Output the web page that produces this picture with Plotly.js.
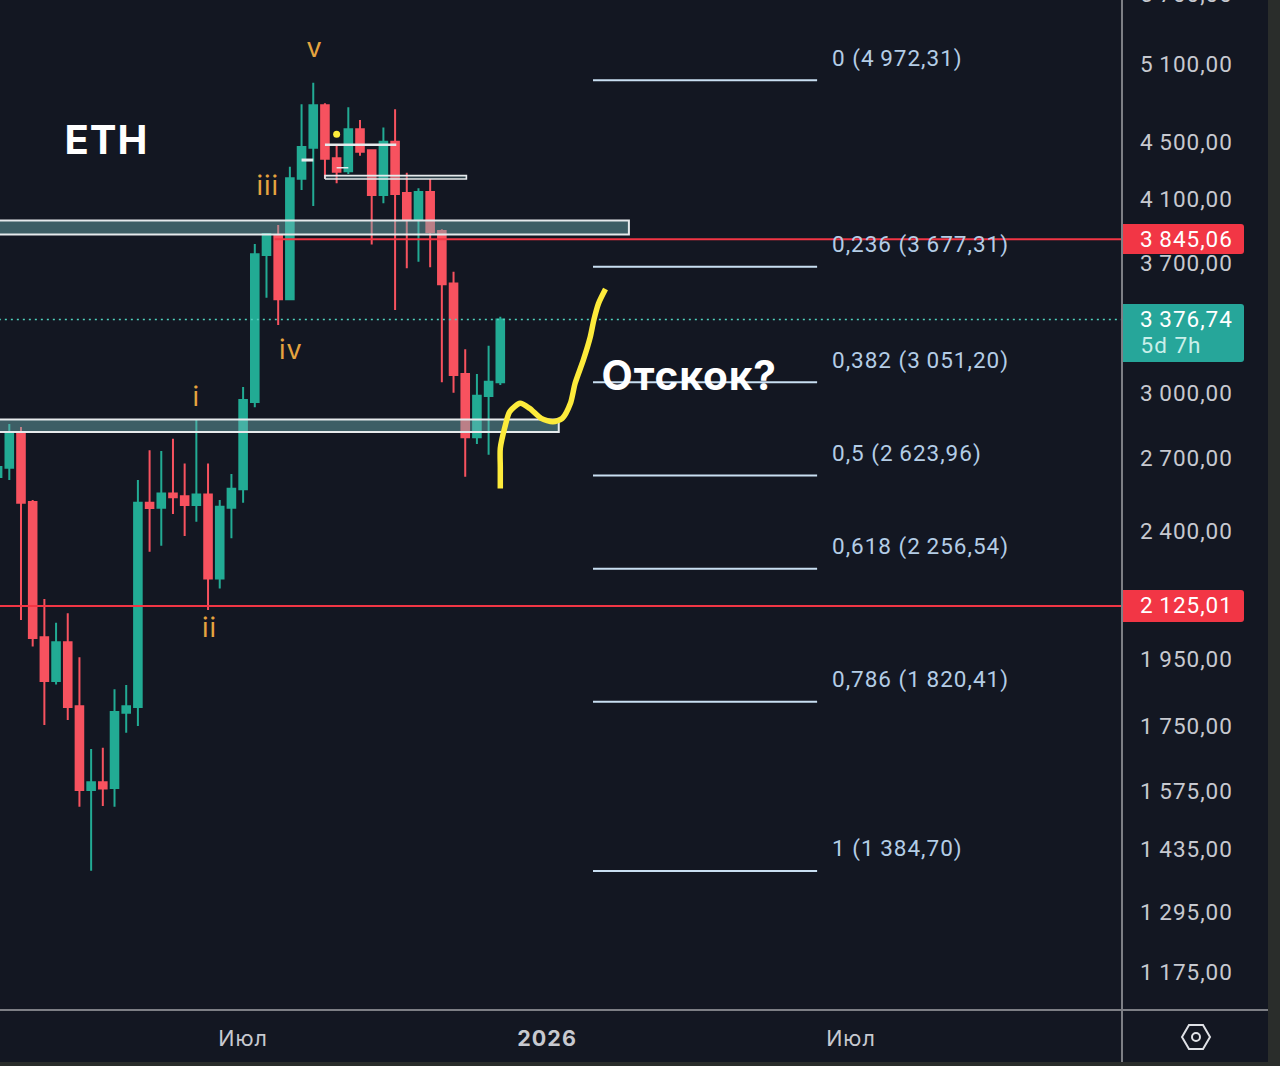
<!DOCTYPE html>
<html><head><meta charset="utf-8">
<script src="https://cdn.plot.ly/plotly-3.0.1.min.js"></script>
<style>html,body{margin:0;padding:0;background:#2a2d2b;overflow:hidden}#c{position:absolute;left:0;top:0;width:1268px;height:1062px}#c text{letter-spacing:1px}</style>
</head><body><div id="c"></div>
<script>
const weeks=[-1,0,1,2,3,4,5,6,7,8,9,10,11,12,13,14,15,16,17,18,19,20,21,22,23,24,25,26,27,28,29,30,31,32,33,34,35,36,37,38,39,40,41,42];
const opens=[2618,2657,2815,2514,2020,1882,2004,1807,1578,1598,1583,1788,1805,2511,2491,2549,2538,2502,2545,2222,2491,2566,2955,3748,3871,3489,4240,4458,4774,4382,4291,4593,4439,4130,4501,4143,3973,4150,3896,3580,3092,2792,2984,3051];
const highs=[2660,2852,2838,2522,2149,2068,2100,1956,1686,1690,1857,1870,2605,2734,2730,2785,2676,2875,2676,2522,2630,3028,3815,3884,3934,4323,4782,4952,4790,4478,4759,4662,4446,4607,4744,4281,4175,4238,3907,3648,3218,3092,3237,3392];
const lows=[2618,2605,2077,1990,1753,1872,1767,1536,1385,1538,1536,1731,1750,2320,2342,2466,2380,2435,2111,2186,2371,2511,2930,3498,3347,3489,4163,4057,4243,4209,4272,4401,3813,4075,3429,3668,3708,3674,3051,3000,2619,2761,2714,3037];
const closes=[2660,2815,2511,2018,1882,2004,1805,1578,1598,1582,1790,1807,2511,2490,2549,2533,2502,2545,2222,2495,2568,2965,3752,3877,3489,4243,4463,4774,4379,4288,4593,4429,4130,4501,4137,3966,4150,3888,3575,3087,2792,2985,3054,3376.74];

const yTicks=[5100,4500,4100,3700,3000,2700,2400,2150,1950,1750,1575,1435,1295,1175];
const xTickVals=[20,46,72];
const xTickText=['Июл','<b>2026</b>','Июл'];

const fibLevels=['0','0,236','0,382','0,5','0,618','0,786','1'];
const fibValues=[4972.31,3677.31,3051.20,2623.96,2256.54,1820.41,1384.70];
const fibStart=49.93, fibEnd=69.1, fibLabelX=70.37;

const currentPrice=3376.74, currentCountdown='5d 7h';
const resistance=3845.06, support=2125.01;
const resistanceStart=22.7;

const upperZone=[3874,3963], upperZoneEnd=53;
const lowerZone=[2815,2873], lowerZoneEnd=47;
const boxPrices=[4238,4261], boxSpan=[27,39.1];

const dashSpans=[[27,33.1],[25,26],[28,29]];
const dashPrices=[4480,4370,4316];
const dashWidths=[2.5,3,1.5];

const dotWeek=[28], dotPrice=[4556];

const sketchX=[42,42,42,42.4,42.8,43.7,44.5,45.5,46.5,47.3,48,48.4,49.1,49.7,50,50.4,51];
const sketchY=[2570,2660,2742,2839,2909,2949,2925,2878,2862,2878,2949,3046,3162,3284,3374,3466,3548];

const waveText=['i','ii','iii','iv','v'];
const waveWeek=[16,17,22,24,26.06];
const wavePrice=[2982,2054,4197,3219,5238];

const bg='#131722', up='#22ab94', down='#f7525f', tagRed='#f23645', tagGreen='#26a69a';
const fibColor='#c9dff2', fibText='#b4cde6', white='#e6eaec', axisText='#c7c9d0', frame='#7d7f85';
const FONT='Inter, "Noto Sans", sans-serif';
const NUM='Roboto, Inter, sans-serif';
const PW=1122, PH=1010, FS=22.5;
const X=p=>p/PW, Y=p=>1-p/PH;

const fmt=v=>{const s=v.toFixed(2).replace('.',',');return v>=1000?s[0]+'\u2009'+s.slice(1):s;};
const lg=Math.log10;

function hline(x0,x1,v,color,width,dash){
  return {type:'scatter',mode:'lines',x:[x0,x1],y:[v,v],hoverinfo:'skip',showlegend:false,
    line:{color:color,width:width,dash:dash||'solid'}};
}
function zone(x1,pr){
  return {type:'scatter',mode:'lines',x:[-5,x1,x1,-5,-5],y:[pr[0],pr[0],pr[1],pr[1],pr[0]],
    fill:'toself',fillcolor:'rgba(114,181,185,0.45)',line:{color:white,width:2},hoverinfo:'skip',showlegend:false};
}
const traces=[
  {type:'candlestick',x:weeks,open:opens,high:highs,low:lows,close:closes,hoverinfo:'skip',showlegend:false,
   whiskerwidth:0,
   increasing:{line:{color:up,width:2},fillcolor:up},
   decreasing:{line:{color:down,width:2},fillcolor:down}},
  hline(resistanceStart,200,resistance,tagRed,2),
  hline(-5,200,support,tagRed,2),
  hline(-5,200,currentPrice,'#4fd0bd',1.5,'2px 4px'),
  zone(upperZoneEnd,upperZone),
  zone(lowerZoneEnd,lowerZone),
  {type:'scatter',mode:'lines',x:[boxSpan[0],boxSpan[1],boxSpan[1],boxSpan[0],boxSpan[0]],
   y:[boxPrices[0],boxPrices[0],boxPrices[1],boxPrices[1],boxPrices[0]],
   line:{color:white,width:1.6},fill:'toself',fillcolor:'rgba(114,181,185,0.25)',hoverinfo:'skip',showlegend:false}
];
dashSpans.forEach((s,i)=>traces.push(hline(s[0],s[1],dashPrices[i],white,dashWidths[i])));
fibValues.forEach(v=>traces.push(hline(fibStart,fibEnd,v,fibColor,2)));
traces.push({type:'scatter',mode:'markers',x:dotWeek,y:dotPrice,marker:{color:'#fdeb3b',size:7},hoverinfo:'skip',showlegend:false});
traces.push({type:'scatter',mode:'lines',x:sketchX,y:sketchY,line:{color:'#fdeb3b',width:5.5,shape:'spline',smoothing:0.7},hoverinfo:'skip',showlegend:false});

const ann=[];
const txt=(o)=>{
  const n=o.text.replace(/<[^>]+>/g,'').length;
  ann.push(Object.assign({showarrow:false,xanchor:'left',yanchor:'middle',borderpad:0,borderwidth:0,xshift:n*0.5},o));
};
fibLevels.forEach((l,i)=>txt({xref:'x',yref:'y',x:fibLabelX,y:lg(fibValues[i]),yshift:22,
  text:l+' ('+fmt(fibValues[i])+')',font:{family:NUM,size:FS,color:fibText}}));
waveText.forEach((t,i)=>txt({xref:'x',yref:'y',x:waveWeek[i],y:lg(wavePrice[i]),xanchor:'center',
  text:t,font:{family:FONT,size:27,color:'#e5a43f'}}));
txt({xref:'paper',yref:'paper',x:X(64),y:Y(139),text:'<b>ETH</b>',font:{family:FONT,size:40,color:'#ffffff'}});
txt({xref:'paper',yref:'paper',x:X(601),y:Y(375),text:'<b>Отскок?</b>',font:{family:FONT,size:40.5,color:'#ffffff'}});
txt({xref:'paper',yref:'y',x:X(1140),y:lg(resistance),yshift:0,text:fmt(resistance),font:{family:NUM,size:FS,color:'#ffffff'}});
txt({xref:'paper',yref:'y',x:X(1140),y:lg(support),yshift:1,text:fmt(support),font:{family:NUM,size:FS,color:'#ffffff'}});
txt({xref:'paper',yref:'y',x:X(1140),y:lg(currentPrice),yshift:1,text:fmt(currentPrice),font:{family:NUM,size:FS,color:'#ffffff'}});
txt({xref:'paper',yref:'paper',x:X(1140),y:Y(345),text:currentCountdown,font:{family:NUM,size:FS,color:'#c9efe9'}});
txt({xref:'paper',yref:'paper',x:X(1140),y:Y(-6),text:fmt(5700),font:{family:NUM,size:FS,color:axisText}});

function tag(y0,y1,color){
  const x0=X(1123),x1=X(1244-3),xe=X(1244),yy0=Y(y0),yy1=Y(y1),r=Y(y0+3),r2=Y(y1-3);
  return {type:'path',xref:'paper',yref:'paper',layer:'above',fillcolor:color,line:{width:0},
    path:`M${x0},${yy0} L${x1},${yy0} Q${xe},${yy0} ${xe},${r} L${xe},${r2} Q${xe},${yy1} ${x1},${yy1} L${x0},${yy1} Z`};
}
function seg(x0,y0,x1,y1){
  return {type:'line',xref:'paper',yref:'paper',layer:'above',x0:X(x0),y0:Y(y0),x1:X(x1),y1:Y(y1),line:{color:frame,width:2}};
}
const cx=1196,cy=1037;
const hex=[[-14,0],[-7,-12],[7,-12],[14,0],[7,12],[-7,12]].map((p,i)=>(i?'L':'M')+X(cx+p[0])+','+Y(cy+p[1])).join(' ')+' Z';
const shapes=[
  seg(1122,0,1122,1062),
  seg(0,1010,1268,1010),
  tag(224,254,tagRed),
  tag(590,622,tagRed),
  tag(304,362,tagGreen),
  {type:'path',xref:'paper',yref:'paper',layer:'above',path:hex,line:{color:'#dfe1e6',width:2},fillcolor:'rgba(0,0,0,0)'},
  {type:'circle',xref:'paper',yref:'paper',layer:'above',x0:X(cx-4),x1:X(cx+4),y0:Y(cy-4),y1:Y(cy+4),line:{color:'#dfe1e6',width:2}}
];

const layout={
  width:1268,height:1062,margin:{l:0,r:146,t:0,b:52,pad:0},
  paper_bgcolor:bg,plot_bgcolor:bg,showlegend:false,dragmode:false,hovermode:false,
  boxgap:0.35,boxgroupgap:0,
  xaxis:{type:'linear',range:[-0.7955,95.18],rangeslider:{visible:false},showgrid:false,zeroline:false,showline:false,
    tickmode:'array',tickvals:xTickVals,ticktext:xTickText,ticks:'',ticklabelstandoff:13,
    tickfont:{family:FONT,size:21.5,color:axisText}},
  yaxis:{type:'log',side:'right',range:[lg(1105.8),lg(5660.6)],showgrid:false,zeroline:false,showline:false,
    tickmode:'array',tickvals:yTicks,ticktext:yTicks.map(fmt),ticks:'',ticklabelstandoff:17,
    tickfont:{family:NUM,size:FS,color:axisText}},
  shapes:shapes,annotations:ann
};
Plotly.newPlot('c',traces,layout,{staticPlot:true,displayModeBar:false});
</script></body></html>
